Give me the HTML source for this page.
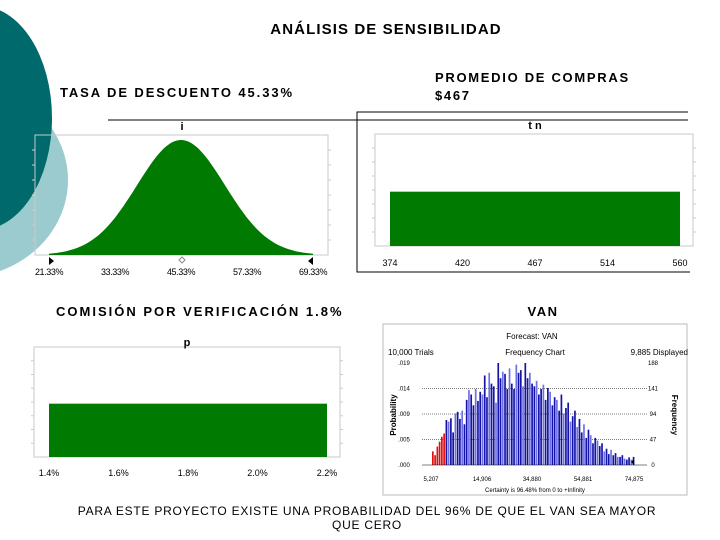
<!DOCTYPE html>
<html><head><meta charset="utf-8"><style>
body{margin:0;width:720px;height:540px;overflow:hidden;background:#fff;font-family:"Liberation Sans",sans-serif}
svg{display:block}
</style></head><body>
<svg id="s" width="720" height="540" xmlns="http://www.w3.org/2000/svg" font-family="Liberation Sans, sans-serif">
<ellipse cx="-40" cy="180" rx="108" ry="98" fill="#9ccbcf"/>
<ellipse cx="-20" cy="118" rx="72" ry="112" fill="#00696b"/>
<text x="386" y="34" text-anchor="middle" font-size="15" font-weight="bold" letter-spacing="1.1">ANÁLISIS DE SENSIBILIDAD</text>
<text x="60" y="97" font-size="13" font-weight="bold" letter-spacing="1.9">TASA DE DESCUENTO 45.33%</text>
<text x="435" y="82" font-size="13" font-weight="bold" letter-spacing="1.7">PROMEDIO DE COMPRAS</text>
<text x="435" y="100" font-size="13" font-weight="bold" letter-spacing="1.7">$467</text>
<text x="56" y="316" font-size="13" font-weight="bold" letter-spacing="2">COMISIÓN POR VERIFICACIÓN 1.8%</text>
<text x="543" y="316" text-anchor="middle" font-size="13" font-weight="bold" letter-spacing="1.5">VAN</text>
<line x1="108" y1="120" x2="688" y2="120" stroke="#000"/>
<path d="M688 112 H357 V272 H690" fill="none" stroke="#000"/>
<text x="367" y="515" text-anchor="middle" font-size="12" letter-spacing="0.75">PARA ESTE PROYECTO  EXISTE UNA PROBABILIDAD DEL 96% DE QUE EL VAN SEA MAYOR</text>
<text x="367" y="529" text-anchor="middle" font-size="12" letter-spacing="0.75">QUE CERO</text>
<g id="g"></g>
</svg>
<script>
const iTicks=["21.33%","33.33%","45.33%","57.33%","69.33%"];
const iMean=45.33, iSd=8, iMin=21.33, iMax=69.33;
const tnTicks=["374","420","467","514","560"];
const tnMin=374, tnMax=560, tnLevel=0.5;
const pTicks=["1.4%","1.6%","1.8%","2.0%","2.2%"];
const pMin=1.4, pMax=2.2, pLevel=0.5;
const vanLeftTicks=[".019",".014",".009",".005",".000"];
const vanRightTicks=["188","141","94","47","0"];
const vanX=["5,207","14,906","34,880","54,881","74,875"];
const vanRed=6;
const vanFreq=[25,18,34,43,52,58,83,80,86,60,95,98,85,100,75,120,138,130,110,140,118,135,130,165,125,170,150,145,115,188,160,172,168,140,178,150,140,185,170,175,145,188,160,170,150,145,155,130,140,148,120,142,135,110,125,120,100,130,95,105,115,80,90,100,70,85,60,75,50,65,55,40,50,45,35,40,25,30,20,28,18,22,15,15,18,12,10,14,10,15];
const NS="http://www.w3.org/2000/svg";
const g=document.getElementById('g');
function mk(t,a,p){const e=document.createElementNS(NS,t);for(const k in a)e.setAttribute(k,a[k]);(p||g).appendChild(e);return e;}
function txt(x,y,s,fs,anc,extra){const e=mk('text',Object.assign({x:x,y:y,'font-size':fs,'text-anchor':anc||'middle'},extra||{}));e.textContent=s;return e;}
function frame(x0,y0,x1,y1,name,fill){
 const r=mk('rect',{x:x0,y:y0,width:x1-x0,height:y1-y0,fill:fill,stroke:'#c8c8c8'});
 
 
 for(let k=1;k<8;k++){const y=y0+(y1-y0)*k/8;mk('line',{x1:x0-3,y1:y,x2:x0,y2:y,stroke:'#ccc'});mk('line',{x1:x1,y1:y,x2:x1+3,y2:y,stroke:'#ccc'});}
}
// chart i
(function(){
 const x0=35,x1=328,y0=135,y1=255,ax0=49,ax1=313;
 frame(x0,y0,x1,y1,'i-plot-frame','none');
 const sx=v=>ax0+(v-iMin)/(iMax-iMin)*(ax1-ax0);
 const pk=1;const sy=d=>y1-(d/pk)*(y1-140);
 let d='M'+sx(iMin)+' '+y1;
 for(let k=0;k<=120;k++){const v=iMin+(iMax-iMin)*k/120;const dd=Math.exp(-0.5*((v-iMean)/iSd)**2);d+=' L'+sx(v).toFixed(1)+' '+sy(dd).toFixed(1);}
 d+=' L'+sx(iMax)+' '+y1+' Z';
 const p=mk('path',{d:d,fill:'#007a00'});
 
 
 const t=txt(182,130,'i',11,'middle',{'font-weight':'bold'});
 
 
 mk('path',{d:`M${ax0} ${y1+2} l5 4 l-5 4z`,fill:'#000'});
 mk('path',{d:`M${ax1} ${y1+2} l-5 4 l5 4z`,fill:'#000'});
 mk('path',{d:`M182 ${y1+2} l3 3 l-3 3 l-3 -3z`,fill:'#fff',stroke:'#888'});
 iTicks.forEach((s,k)=>{const e=txt(sx(iMin+(iMax-iMin)*k/4),275,s,9,'middle',{'letter-spacing':'-0.4'});
  
  });
})();
function uniform(x0,x1,y0,y1,ax0,ax1,mn,mx,lvl,ticks,ty,title,tx,tyy,nm){
 frame(x0,y0,x1,y1,nm+'-plot-frame','#fff');
 const sx=v=>ax0+(v-mn)/(mx-mn)*(ax1-ax0);
 const top=y1-lvl*(y1-y0)*0.97;
 const r=mk('rect',{x:sx(mn),y:top,width:sx(mx)-sx(mn),height:y1-top,fill:'#007a00'});
 
 
 const t=txt(tx,tyy,title,11,'middle',{'font-weight':'bold'});
 
 
 ticks.forEach((s,k)=>{const e=txt(sx(mn+(mx-mn)*k/4),ty,s,9,'middle');
  
  });
}
uniform(375,693,134,246,390,680,tnMin,tnMax,tnLevel,tnTicks,266,'t n',535,129,'tn');
uniform(34,340,347,457,49,327,pMin,pMax,pLevel,pTicks,476,'p',187,346,'p');
// VAN
(function(){
 const fr=mk('rect',{x:383,y:324,width:304,height:171,fill:'#fff',stroke:'#bbb'});
 
 
 const px0=422,px1=647,yb=465,yt=363,maxF=188;
 const sy=f=>yb-f/maxF*(yb-yt);
 [["Forecast: VAN",532,339,'middle','van-title'],["10,000 Trials",388,355,'start','van-trials'],["Frequency Chart",535,355,'middle','van-subtitle'],["9,885 Displayed",688,355,'end','van-displayed']].forEach(a=>{
  const e=txt(a[1],a[2],a[0],8,a[3]);});
 for(let k=0;k<5;k++){const f=maxF*(4-k)/4;const y=sy(f);
  if(k>0&&k<4)mk('line',{x1:px0,y1:y,x2:px1,y2:y,stroke:'#000','stroke-dasharray':'1,1','stroke-width':0.6});
  const l=txt(404,y+2,vanLeftTicks[k],6,'middle');
  const r=txt(653,y+2,vanRightTicks[k],6,'middle');}
 const bx0=432,bx1=635,n=vanFreq.length,w=(bx1-bx0)/n;
 vanFreq.forEach((f,k)=>{const col=k<vanRed?'#dd1111':(k%3==1?'#6f6fe8':'#1414a8');
  const r=mk('rect',{x:(bx0+k*w).toFixed(2),y:sy(f).toFixed(1),width:(w*0.75).toFixed(2),height:(yb-sy(f)).toFixed(1),fill:col});
  
  });
 mk('line',{x1:px0,y1:yb,x2:px1,y2:yb,stroke:'#000','stroke-width':0.6});
 mk('path',{d:`M634 ${yb-6} v6 l-3 -3z`,fill:'#000'});
 const xs=[431,482,532,583,634];
 vanX.forEach((s,k)=>{const e=txt(xs[k],481,s,6,'middle');});
 const c=txt(535,492,'Certainty is 96.48% from 0 to +Infinity',6,'middle');
 const yl=txt(396,415,'Probability',8,'middle',{'font-weight':'bold',transform:'rotate(-90 396 415)'});
 const yr=txt(672,415,'Frequency',8,'middle',{'font-weight':'bold',transform:'rotate(90 672 415)'});
})();
</script>
</body></html>
